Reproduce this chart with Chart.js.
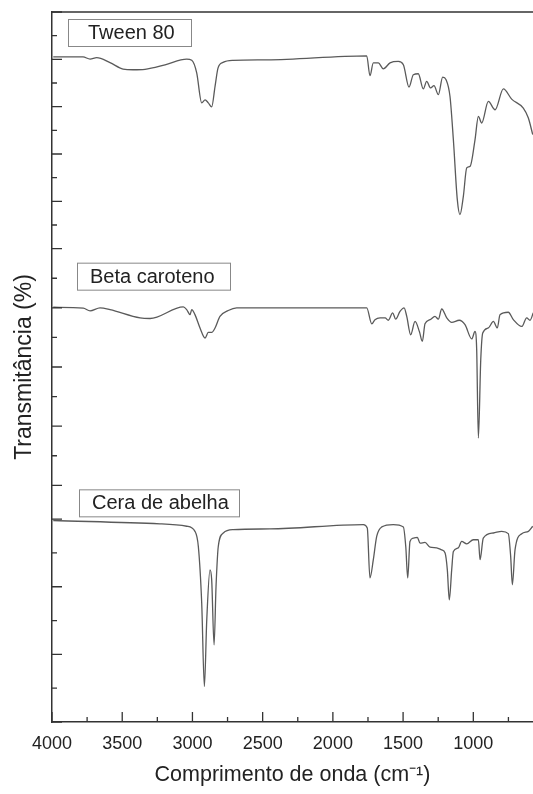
<!DOCTYPE html>
<html>
<head>
<meta charset="utf-8">
<script src="https://cdn.jsdelivr.net/npm/chart.js@4.4.1/dist/chart.umd.min.js"></script>
<style>
  html, body { margin: 0; padding: 0; background: #fff; }
  #wrap { width: 533px; height: 794px; }
</style>
</head>
<body>
<div id="wrap"><canvas id="ftirChart" width="533" height="794"></canvas></div>
<script>
// Wavenumber ticks (cm-1), labels only on the 500 steps
const xTickValues = [4000, 3750, 3500, 3250, 3000, 2750, 2500, 2250, 2000, 1750, 1500, 1250, 1000, 750];

// Sample names (top to bottom)
const sampleNames = ['Tween 80', 'Beta caroteno', 'Cera de abelha'];

// Tween 80 spectrum (wavenumber, transmittance in panel units)
const tweenWn = [3991, 3779, 3729, 3682, 3587, 3494, 3423, 3338, 3195, 3041, 3005, 2970, 2934, 2910, 2887, 2863, 2839, 2818, 2782, 2711, 2471, 1759,
  1736, 1712, 1676, 1641, 1593, 1534, 1498, 1458, 1427, 1392, 1356, 1332, 1304, 1280, 1249, 1218, 1194, 1166, 1142, 1114, 1095, 1071, 1047,
  1023, 988, 964, 940, 893, 845, 786, 727, 644, 608, 577];
const tweenT = [81.0, 81.0, 80.1, 80.7, 78.6, 75.9, 75.6, 75.8, 77.7, 80.1, 79.6, 74.4, 61.6, 62.9, 61.6, 59.9, 68.6, 76.3, 78.7, 79.6, 79.8, 81.5,
  73.1, 78.5, 78.5, 76.0, 78.5, 79.1, 77.7, 68.3, 73.5, 73.9, 67.5, 70.7, 67.9, 68.9, 65.1, 72.5, 71.4, 64.3, 46.0, 20.7, 14.4, 22.1, 34.1,
  34.8, 46.0, 55.9, 53.1, 62.2, 58.7, 67.5, 63.2, 59.4, 55.2, 48.2];

// Beta caroteno spectrum
const betaWn = [3991, 3777, 3729, 3658, 3587, 3373, 3302, 3065, 3041, 3017, 3005, 2982, 2946, 2910, 2887, 2863, 2839, 2804, 2745, 2685, 2471,
  1759, 1723, 1700, 1664, 1628, 1605, 1574, 1553, 1522, 1493, 1474, 1446, 1415, 1384, 1363, 1344, 1308, 1273, 1249, 1225, 1189, 1154, 1100,
  1059, 1011, 988, 976, 964, 947, 933, 893, 857, 829, 810, 751, 715, 655, 620, 596, 573];
const betaT = [60.2, 59.9, 59.0, 60.0, 59.4, 56.6, 56.4, 60.3, 59.4, 57.7, 59.4, 57.7, 53.2, 49.8, 51.7, 51.7, 53.2, 57.1, 59.1, 60.0, 60.0,
  60.0, 54.6, 56.0, 56.6, 56.6, 55.8, 58.3, 56.2, 58.8, 60.0, 57.1, 50.9, 55.4, 52.0, 48.7, 54.6, 56.0, 57.1, 56.2, 59.6, 56.6, 55.1, 55.8,
  54.3, 49.5, 52.0, 45.9, 16.0, 42.5, 51.5, 53.2, 55.4, 53.2, 57.7, 58.5, 56.0, 53.7, 56.6, 55.8, 58.3];

// Cera de abelha spectrum
const ceraWn = [3991, 3231, 3041, 2982, 2958, 2934, 2915, 2898, 2875, 2863, 2846, 2832, 2816, 2780, 2709, 2448, 1783, 1755, 1736, 1712, 1688,
  1652, 1570, 1498, 1481, 1467, 1451, 1427, 1399, 1379, 1344, 1308, 1261, 1225, 1201, 1185, 1171, 1154, 1142, 1107, 1083, 1047, 1000, 964,
  952, 929, 857, 798, 751, 734, 722, 703, 655, 608, 577];
const ceraT = [59.6, 58.6, 57.9, 56.4, 51.9, 35.2, 10.5, 30.2, 45.0, 42.1, 22.8, 40.1, 51.9, 55.9, 56.9, 57.1, 58.4, 57.4, 42.6, 48.0, 54.9,
  57.7, 58.4, 57.7, 51.9, 42.6, 53.4, 54.4, 54.6, 52.9, 53.1, 51.7, 51.5, 50.9, 50.0, 45.0, 36.1, 45.0, 50.4, 51.5, 53.4, 52.7, 53.9, 53.9,
  48.0, 54.4, 55.9, 56.4, 55.7, 49.0, 40.6, 50.9, 55.7, 56.4, 57.9];

const axisColor = '#333';
const traceColor = '#5a5a5a';
const textColor = '#222';
const fontFamily = '"Liberation Sans", Arial, sans-serif';

function toPoints(wn, t) {
    return wn.map((w, i) => ({ x: w, y: t[i] }));
}

// one y panel per sample, stacked in a single column
function panelAxis(max, titleText) {
    return {
        type: 'linear',
        position: 'left',
        stack: 'panels',
        stackWeight: 1,
        min: 0,
        max: max,
        ticks: { display: false, stepSize: 10 },
        grid: { display: false },
        border: { display: true, color: axisColor, width: 1.5 },
        title: {
            display: !!titleText,
            text: titleText || '',
            color: textColor,
            font: { family: fontFamily, size: 23 },
            padding: { top: 11, bottom: 0 }
        },
        afterFit(scale) { scale.width = 52; }
    };
}

// box positions of the sample labels (offset from the panel top)
const labelLayout = [
    { left: 68, top: 7, width: 123, height: 27, textLeft: 88 },
    { left: 77, top: 14, width: 153, height: 27, textLeft: 90 },
    { left: 79, top: 4, width: 160, height: 27, textLeft: 92 }
];
const panelIds = ['yTween', 'yBeta', 'yCera'];

const frameAndTicks = {
    id: 'frameAndTicks',
    afterDraw(chart) {
        const ctx = chart.ctx;
        const area = chart.chartArea;
        ctx.save();
        ctx.strokeStyle = axisColor;
        ctx.lineWidth = 1.5;
        ctx.beginPath();
        ctx.moveTo(area.left, area.top);
        ctx.lineTo(area.right, area.top);
        ctx.stroke();

        ctx.lineWidth = 1.3;
        ctx.beginPath();
        const xs = chart.scales.x;
        xs.ticks.forEach(t => {
            const px = xs.getPixelForValue(t.value);
            const len = t.value % 500 === 0 ? 10 : 5;
            ctx.moveTo(px, area.bottom);
            ctx.lineTo(px, area.bottom - len);
        });
        panelIds.forEach(id => {
            const s = chart.scales[id];
            s.ticks.forEach(t => {
                const py = s.getPixelForValue(t.value);
                const len = t.value % 20 === 0 ? 10 : 5;
                ctx.moveTo(s.right, py);
                ctx.lineTo(s.right + len, py);
            });
        });
        ctx.stroke();

        // sample labels
        ctx.font = '20px ' + fontFamily;
        ctx.textBaseline = 'middle';
        ctx.textAlign = 'left';
        panelIds.forEach((id, i) => {
            const s = chart.scales[id];
            const b = labelLayout[i];
            const top = s.top + b.top;
            ctx.fillStyle = '#fff';
            ctx.fillRect(b.left, top, b.width, b.height);
            ctx.strokeStyle = '#888';
            ctx.lineWidth = 1;
            ctx.strokeRect(b.left + 0.5, top + 0.5, b.width, b.height);
            ctx.fillStyle = textColor;
            ctx.fillText(sampleNames[i], b.textLeft, top + b.height / 2 + 1);
        });
        ctx.restore();
    }
};

const ctx = document.getElementById('ftirChart').getContext('2d');
const ftirChart = new Chart(ctx, {
    type: 'line',
    data: {
        datasets: [
            { label: sampleNames[0], data: toPoints(tweenWn, tweenT), yAxisID: 'yTween' },
            { label: sampleNames[1], data: toPoints(betaWn, betaT), yAxisID: 'yBeta' },
            { label: sampleNames[2], data: toPoints(ceraWn, ceraT), yAxisID: 'yCera' }
        ].map(d => Object.assign(d, {
            borderColor: traceColor,
            borderWidth: 1.3,
            pointRadius: 0,
            cubicInterpolationMode: 'monotone',
            fill: false
        }))
    },
    options: {
        responsive: false,
        animation: false,
        layout: { padding: { top: 12, right: 0, left: 0, bottom: 0 } },
        plugins: { legend: { display: false }, tooltip: { enabled: false } },
        scales: {
            x: {
                type: 'linear',
                reverse: true,
                min: 575,
                max: 4000,
                afterBuildTicks(scale) {
                    scale.ticks = xTickValues.map(v => ({ value: v }));
                },
                ticks: {
                    color: textColor,
                    font: { family: fontFamily, size: 18 },
                    padding: 3,
                    maxRotation: 0,
                    autoSkip: false,
                    callback: v => (v % 500 === 0 ? String(v) : '')
                },
                grid: { display: false },
                border: { display: true, color: axisColor, width: 1.5 },
                title: {
                    display: true,
                    text: 'Comprimento de onda (cm⁻¹)',
                    color: textColor,
                    font: { family: fontFamily, size: 21.5 },
                    padding: { top: 4, bottom: 6 }
                },
                afterFit(scale) { scale.height = 72; }
            },
            yCera: panelAxis(70),
            yBeta: panelAxis(80, 'Transmitância (%)'),
            yTween: panelAxis(100)
        }
    },
    plugins: [frameAndTicks]
});
</script>
</body>
</html>
